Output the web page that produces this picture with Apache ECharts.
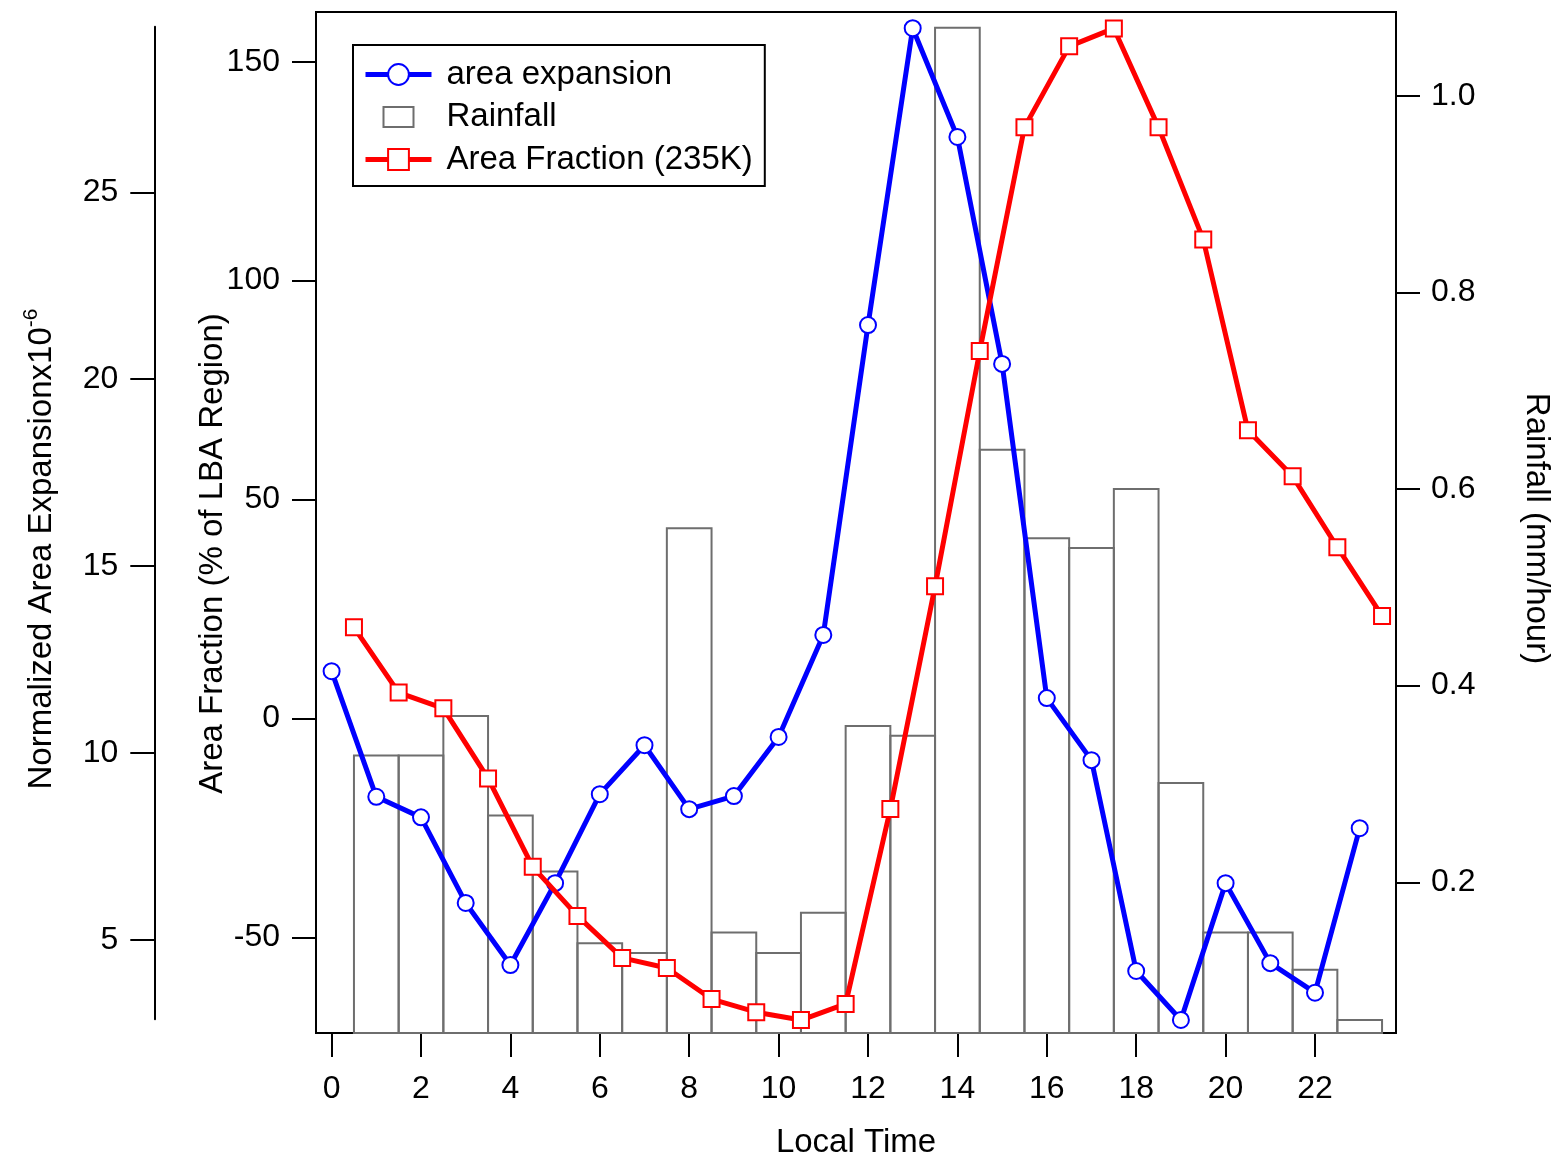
<!DOCTYPE html>
<html>
<head>
<meta charset="utf-8">
<script src="https://cdn.jsdelivr.net/npm/echarts@6/dist/echarts.min.js"></script>
<style>
html, body { margin: 0; padding: 0; background: #fff; }
#chart { width: 1557px; height: 1158px; }
</style>
</head>
<body>
<div id="chart"></div>
<script>
// Diurnal cycle over the LBA region, by local hour.

// Normalized area expansion (x10^-6), on the hour
const hours = [0, 1, 2, 3, 4, 5, 6, 7, 8, 9, 10, 11, 12, 13, 14, 15, 16, 17, 18, 19, 20, 21, 22, 23];
const areaExpansion = [12.19, 8.83, 8.28, 5.99, 4.33, 6.52, 8.90, 10.21, 8.50, 8.85, 10.43, 13.16,
                       21.45, 29.39, 26.48, 20.41, 11.47, 9.81, 4.17, 2.86, 6.52, 4.38, 3.59, 7.99];

// Area fraction colder than 235K (% of LBA region), on the half hour
const fractionHours = [0.5, 1.5, 2.5, 3.5, 4.5, 5.5, 6.5, 7.5, 8.5, 9.5, 10.5, 11.5,
                       12.5, 13.5, 14.5, 15.5, 16.5, 17.5, 18.5, 19.5, 20.5, 21.5, 22.5, 23.5];
const areaFraction = [20.8, 5.9, 2.3, -13.7, -33.9, -45.1, -54.7, -57.0, -64.1, -67.1, -68.9, -65.2,
                      -20.7, 30.2, 83.9, 135.0, 153.5, 157.6, 135.0, 109.4, 65.8, 55.3, 39.1, 23.4];

// Hourly rainfall (mm/hour)
const rainHours = [1, 2, 3, 4, 5, 6, 7, 8, 9, 10, 11, 12, 13, 14, 15, 16, 17, 18, 19, 20, 21, 22, 23];
const rainfall = [0.329, 0.329, 0.369, 0.268, 0.211, 0.138, 0.128, 0.560, 0.149, 0.128, 0.169, 0.359,
                  0.349, 1.069, 0.640, 0.550, 0.540, 0.600, 0.301, 0.149, 0.149, 0.111, 0.060];

// Tick positions
const timeTicks = [0, 2, 4, 6, 8, 10, 12, 14, 16, 18, 20, 22];
const fractionTicks = [-50, 0, 50, 100, 150];
const expansionTicks = [5, 10, 15, 20, 25];
const rainTicks = [0.2, 0.4, 0.6, 0.8, 1.0];

// Axis ranges
const X_MIN = -0.349, X_MAX = 23.812;
const FRAC_MIN = -71.85, FRAC_MAX = 161.35;
const RAIN_MIN = 0.0467, RAIN_MAX = 1.0851;
const EXP_MIN = 2.878, EXP_MAX = 29.43;

const FONT = '"Liberation Sans", Arial, sans-serif';
const BLUE = '#0000ff', RED = '#ff0000', BAR_EDGE = '#6e6e6e';

const axisLine = { show: true, onZero: false, lineStyle: { color: '#000', width: 2 } };
const tickStyle = { show: true, length: 24, lineStyle: { color: '#000', width: 2 } };
const labelStyle = { color: '#000', fontFamily: FONT, fontSize: 32 };
const nameStyle = { color: '#000', fontFamily: FONT, fontSize: 33 };

const chart = echarts.init(document.getElementById('chart'), null, { renderer: 'canvas' });

chart.setOption({
  animation: false,
  backgroundColor: '#fff',
  grid: [
    { left: 316, right: 161, top: 12, bottom: 125, containLabel: false, outerBoundsMode: 'none',
      show: true, borderColor: '#000', borderWidth: 2, backgroundColor: 'transparent' },
    { left: 316, right: 161, top: 26.7, bottom: 138.7, containLabel: false, outerBoundsMode: 'none', show: false }
  ],
  legend: {
    orient: 'vertical',
    left: 353, top: 45,
    padding: [13, 12, 10, 10],
    itemWidth: 66, itemHeight: 26, itemGap: 9.5,
    borderColor: '#000', borderWidth: 2,
    backgroundColor: '#fff',
    selectedMode: false,
    textStyle: { fontFamily: FONT, fontSize: 33, color: '#000', padding: [0, 0, 0, 10] },
    data: [
      { name: 'area expansion', lineStyle: { width: 5 } },
      { name: 'Rainfall', icon: 'path://M0,0M66,26M18,3H48V23H18Z',
        itemStyle: { color: '#fff', borderColor: BAR_EDGE, borderWidth: 2 } },
      { name: 'Area Fraction (235K)', lineStyle: { width: 5 } }
    ]
  },
  xAxis: [
    {
      type: 'value', gridIndex: 0, position: 'bottom',
      min: X_MIN, max: X_MAX,
      axisLine: axisLine,
      axisTick: Object.assign({}, tickStyle, { customValues: timeTicks }),
      axisLabel: Object.assign({}, labelStyle, { margin: 40, customValues: timeTicks }),
      splitLine: { show: false },
      name: 'Local Time', nameLocation: 'middle', nameGap: 93, nameMoveOverlap: false,
      nameTextStyle: nameStyle
    },
    {
      type: 'value', gridIndex: 1, min: X_MIN, max: X_MAX, show: false,
      axisLine: { onZero: false }
    }
  ],
  yAxis: [
    {
      type: 'value', gridIndex: 0, position: 'left',
      min: FRAC_MIN, max: FRAC_MAX,
      axisLine: axisLine,
      axisTick: Object.assign({}, tickStyle, { customValues: fractionTicks }),
      axisLabel: Object.assign({}, labelStyle, { margin: 36, customValues: fractionTicks }),
      splitLine: { show: false },
      name: 'Area Fraction (% of LBA Region)', nameLocation: 'middle', nameRotate: 90, nameGap: 87,
      nameMoveOverlap: false,
      nameTextStyle: Object.assign({}, nameStyle, { padding: [0, 62, 0, 0] })
    },
    {
      type: 'value', gridIndex: 0, position: 'right',
      min: RAIN_MIN, max: RAIN_MAX,
      axisLine: axisLine,
      axisTick: Object.assign({}, tickStyle, { customValues: rainTicks }),
      axisLabel: Object.assign({}, labelStyle, { margin: 35, customValues: rainTicks,
        formatter: v => v.toFixed(1) }),
      splitLine: { show: false },
      name: 'Rainfall (mm/hour)', nameLocation: 'middle', nameRotate: -90, nameGap: 124,
      nameMoveOverlap: false,
      nameTextStyle: Object.assign({}, nameStyle, { padding: [0, 0, 0, 12] })
    },
    {
      type: 'value', gridIndex: 1, position: 'left', offset: 161.7,
      min: EXP_MIN, max: EXP_MAX,
      axisLine: axisLine,
      axisTick: Object.assign({}, tickStyle, { customValues: expansionTicks }),
      axisLabel: Object.assign({}, labelStyle, { margin: 36, customValues: expansionTicks }),
      splitLine: { show: false },
      name: '{m|Normalized Area Expansionx10}{s|-6}', nameLocation: 'middle', nameRotate: 90, nameGap: 90,
      nameMoveOverlap: false,
      nameTextStyle: {
        padding: [0, 52, 0, 0],
        rich: {
          m: { fontFamily: FONT, fontSize: 33, color: '#000', lineHeight: 44 },
          s: { fontFamily: FONT, fontSize: 21, color: '#000', lineHeight: 14, verticalAlign: 'top' }
        }
      }
    }
  ],
  series: [
    {
      name: 'Rainfall',
      type: 'custom',
      xAxisIndex: 0, yAxisIndex: 1,
      z: 1,
      data: rainHours.map((h, i) => [h, rainfall[i]]),
      renderItem: function (params, api) {
        const x = api.value(0), v = api.value(1);
        const topLeft = api.coord([x - 0.5, v]);
        const bottomRight = api.coord([x + 0.5, RAIN_MIN]);
        return {
          type: 'rect',
          shape: { x: topLeft[0], y: topLeft[1], width: bottomRight[0] - topLeft[0], height: bottomRight[1] - topLeft[1] },
          style: { fill: 'rgba(255,255,255,0)', stroke: BAR_EDGE, lineWidth: 2 }
        };
      }
    },
    {
      name: 'area expansion',
      type: 'line',
      xAxisIndex: 1, yAxisIndex: 2,
      z: 3,
      clip: false,
      data: hours.map((h, i) => [h, areaExpansion[i]]),
      symbol: 'emptyCircle', symbolSize: 16, showAllSymbol: true,
      itemStyle: { color: BLUE, borderWidth: 1.8 },
      lineStyle: { color: BLUE, width: 5 }
    },
    {
      name: 'Area Fraction (235K)',
      type: 'line',
      xAxisIndex: 0, yAxisIndex: 0,
      z: 4,
      clip: false,
      data: fractionHours.map((h, i) => [h, areaFraction[i]]),
      symbol: 'emptyRect', symbolSize: 16, showAllSymbol: true,
      itemStyle: { color: RED, borderWidth: 1.8 },
      lineStyle: { color: RED, width: 5 }
    }
  ]
});
</script>
</body>
</html>
